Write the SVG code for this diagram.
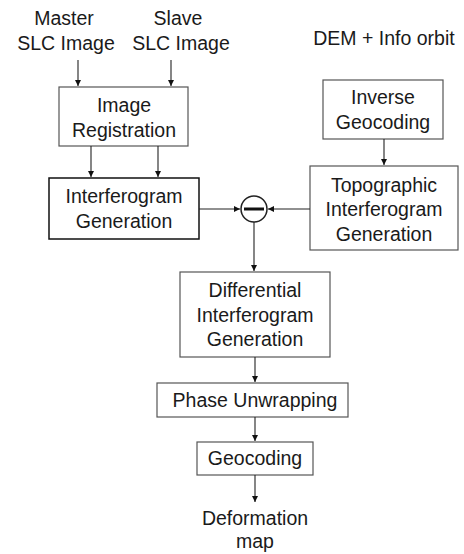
<svg xmlns="http://www.w3.org/2000/svg" width="464" height="554" viewBox="0 0 464 554">
<style>
text{font-family:"Liberation Sans",Arial,sans-serif;font-size:19.5px;fill:#1a1a1a;text-anchor:middle}
.box{fill:#fff;stroke:#555;stroke-width:1.2}
.dark{stroke:#111;stroke-width:1.5}
.ln{stroke:#222;stroke-width:1.1;fill:none}
</style>
<defs>
<marker id="ah" markerWidth="7" markerHeight="7" refX="6" refY="3" orient="auto" markerUnits="userSpaceOnUse">
<path d="M0,0 L6,3 L0,6 Z" fill="#111"/>
</marker>
</defs>
<rect width="464" height="554" fill="#fff"/>
<g id="master"><text x="64" y="25">Master</text><text x="66" y="50">SLC Image</text></g>
<g id="slave"><text x="178" y="25">Slave</text><text x="181" y="50">SLC Image</text></g>
<g id="dem"><text x="384" y="45">DEM + Info orbit</text></g>
<g id="registration"><rect class="box" x="59" y="87" width="129" height="59"/><text x="124" y="112">Image</text><text x="124" y="137">Registration</text></g>
<g id="interferogram"><rect class="box dark" x="49" y="178" width="150" height="61"/><text x="124" y="203">Interferogram</text><text x="124" y="228">Generation</text></g>
<g id="inverse"><rect class="box" x="323" y="80" width="120" height="59"/><text x="383" y="104">Inverse</text><text x="383" y="129">Geocoding</text></g>
<g id="topographic"><rect class="box" x="310" y="166" width="148" height="84"/><text x="384" y="192">Topographic</text><text x="384" y="216">Interferogram</text><text x="384" y="241">Generation</text></g>
<g id="minus"><circle cx="254" cy="209" r="13" fill="#fff" stroke="#222" stroke-width="1.5"/><line x1="244" y1="209" x2="264" y2="209" stroke="#111" stroke-width="3"/></g>
<g id="differential"><rect class="box" x="180" y="272" width="150" height="85"/><text x="255" y="297">Differential</text><text x="255" y="322">Interferogram</text><text x="255" y="346">Generation</text></g>
<g id="phase"><rect class="box" x="157" y="383" width="191" height="34"/><text x="255" y="407">Phase Unwrapping</text></g>
<g id="geocoding"><rect class="box" x="197" y="442" width="116" height="33"/><text x="255" y="465">Geocoding</text></g>
<g id="deformation"><text x="255" y="525">Deformation</text><text x="255" y="548">map</text></g>
<g id="connectors">
<line class="ln" x1="78" y1="60" x2="78" y2="86" marker-end="url(#ah)"/>
<line class="ln" x1="171" y1="60" x2="171" y2="86" marker-end="url(#ah)"/>
<line class="ln" x1="91" y1="146" x2="91" y2="177" marker-end="url(#ah)"/>
<line class="ln" x1="158" y1="146" x2="158" y2="177" marker-end="url(#ah)"/>
<line class="ln" x1="384" y1="139" x2="384" y2="165" marker-end="url(#ah)"/>
<line class="ln" x1="199" y1="209" x2="240" y2="209" marker-end="url(#ah)"/>
<line class="ln" x1="310" y1="209" x2="268" y2="209" marker-end="url(#ah)"/>
<line class="ln" x1="254" y1="222" x2="254" y2="271" marker-end="url(#ah)"/>
<line class="ln" x1="255" y1="357" x2="255" y2="382" marker-end="url(#ah)"/>
<line class="ln" x1="255" y1="417" x2="255" y2="441" marker-end="url(#ah)"/>
<line class="ln" x1="255" y1="475" x2="255" y2="502" marker-end="url(#ah)"/>
</g>
</svg>
